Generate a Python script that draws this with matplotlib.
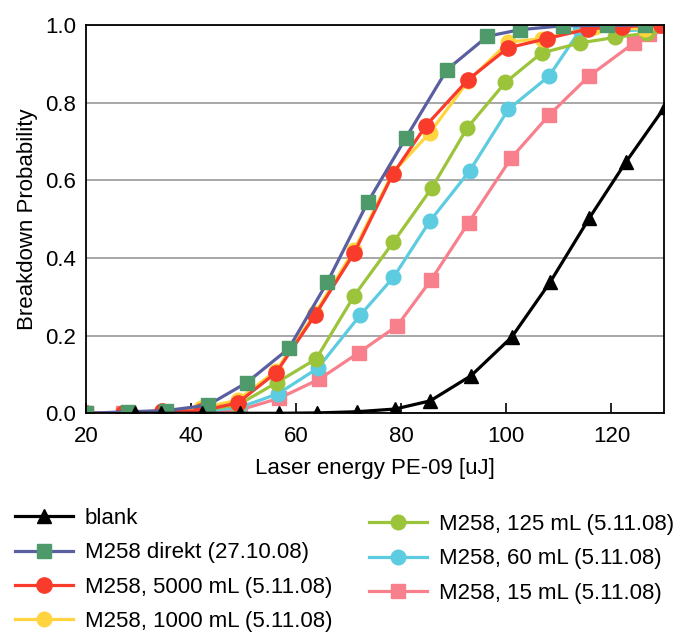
import numpy as np
import matplotlib.pyplot as plt

plt.rcParams['font.family'] = ['Liberation Sans', 'DejaVu Sans']

# Laser energy [uJ] and breakdown probability per sample
x_blank = [29.4, 34.2, 42.1, 49.4, 56.7, 64.0, 71.5, 78.8, 85.5, 93.3, 101.0, 108.3, 115.8, 122.8, 130.2]
y_blank = [0.0, 0.0, 0.0, 0.0, 0.0, 0.001, 0.004, 0.011, 0.032, 0.097, 0.196, 0.337, 0.503, 0.648, 0.79]

x_direkt = [20.0, 28.0, 35.3, 43.2, 50.6, 58.6, 65.9, 73.6, 80.9, 88.7, 96.4, 102.6, 110.8, 119.1, 126.4]
y_direkt = [0.0, 0.004, 0.007, 0.021, 0.079, 0.167, 0.337, 0.543, 0.710, 0.885, 0.971, 0.988, 0.998, 0.999, 1.0]

x_5000 = [20.0, 27.1, 34.4, 41.8, 48.9, 56.2, 63.6, 71.0, 78.4, 84.7, 92.7, 100.3, 107.7, 115.6, 122.1, 129.4]
y_5000 = [0.0, 0.002, 0.006, 0.006, 0.027, 0.105, 0.253, 0.412, 0.616, 0.741, 0.859, 0.941, 0.965, 0.990, 0.996, 0.999]

x_1000 = [20.0, 27.1, 34.4, 41.8, 48.9, 56.2, 63.6, 71.0, 78.4, 85.4, 92.7, 100.4, 106.7, 116.8, 126.4, 133.0]
y_1000 = [0.0, 0.002, 0.006, 0.013, 0.034, 0.110, 0.258, 0.420, 0.620, 0.722, 0.855, 0.956, 0.965, 0.994, 0.990, 0.993]

x_125 = [20.0, 27.1, 34.4, 41.8, 49.0, 56.3, 63.8, 71.0, 78.5, 85.8, 92.6, 99.8, 106.7, 114.1, 120.7, 126.7, 133.0]
y_125 = [0.0, 0.002, 0.004, 0.006, 0.022, 0.079, 0.140, 0.302, 0.441, 0.580, 0.736, 0.852, 0.928, 0.954, 0.968, 0.979, 0.99]

x_60 = [20.0, 27.1, 34.4, 41.8, 49.2, 56.5, 64.1, 72.2, 78.5, 85.4, 93.0, 100.4, 108.1, 114.1, 121.1, 126.7, 133.0]
y_60 = [0.0, 0.001, 0.003, 0.005, 0.015, 0.050, 0.116, 0.253, 0.350, 0.494, 0.624, 0.783, 0.868, 0.988, 0.984, 0.988, 0.99]

x_15 = [20.0, 27.1, 35.0, 42.0, 49.4, 56.8, 64.4, 71.9, 79.2, 85.7, 92.8, 100.9, 108.2, 115.7, 124.3, 127.2, 133.0]
y_15 = [0.0, 0.001, 0.004, 0.004, 0.009, 0.039, 0.088, 0.156, 0.225, 0.344, 0.491, 0.657, 0.769, 0.868, 0.954, 0.977, 0.99]

fs = 16

fig = plt.figure(figsize=(6.76, 6.32), dpi=100)
ax = fig.add_axes([86 / 676, 1 - 413.3 / 632, 578 / 676, 388.3 / 632])

lw = 2.3
h15, = ax.plot(x_15, y_15, '-s', color='#F8808C', lw=lw, ms=9.5, zorder=3)
h60, = ax.plot(x_60, y_60, '-o', color='#5DCBE0', lw=lw, ms=10.5, zorder=4)
h125, = ax.plot(x_125, y_125, '-o', color='#9BC43A', lw=lw, ms=10.5, zorder=5)
h1000, = ax.plot(x_1000, y_1000, '-o', color='#FFD43F', lw=lw, ms=10.5, zorder=6)
h5000, = ax.plot(x_5000, y_5000, '-o', color='#F93B2B', lw=lw, ms=11, zorder=7)
hdir, = ax.plot(x_direkt, y_direkt, '-s', color='#5A5FA0', mfc='#4E9A6A', mec='#4E9A6A',
                lw=lw, ms=10, zorder=8)
hblank, = ax.plot(x_blank, y_blank, '-^', color='black', lw=lw, ms=10.5, zorder=9)

ax.set_xlim(20, 130)
ax.set_ylim(0, 1.0)
ax.set_xticks([20, 40, 60, 80, 100, 120])
ax.set_yticks([0.0, 0.2, 0.4, 0.6, 0.8, 1.0])
ax.yaxis.set_major_formatter(plt.FormatStrFormatter('%.1f'))
ax.tick_params(axis='x', direction='in', length=7, width=1.2, labelsize=fs, pad=9)
ax.tick_params(axis='y', length=0, labelsize=fs, pad=7)
ax.grid(axis='y', color='#A0A0A0', lw=1.3, zorder=0)
for s in ax.spines.values():
    s.set_linewidth(1.3)
    s.set_zorder(10)

ax.set_xlabel('Laser energy PE-09 [uJ]', fontsize=fs, labelpad=8)
ax.set_ylabel('Breakdown Probability', fontsize=fs, labelpad=5)

leg_kw = dict(frameon=False, fontsize=fs, handlelength=2.6, handletextpad=0.55,
              labelspacing=0.6, borderpad=0, borderaxespad=0, loc='upper left')
fig.legend([hblank, hdir, h5000, h1000],
           ['blank', 'M258 direkt (27.10.08)', 'M258, 5000 mL (5.11.08)', 'M258, 1000 mL (5.11.08)'],
           bbox_to_anchor=(15 / 676, 1 - 508 / 632), **leg_kw)
fig.legend([h125, h60, h15],
           ['M258, 125 mL (5.11.08)', 'M258, 60 mL (5.11.08)', 'M258, 15 mL (5.11.08)'],
           bbox_to_anchor=(369 / 676, 1 - 514 / 632), **leg_kw)

fig.savefig('out.png', dpi=100)
